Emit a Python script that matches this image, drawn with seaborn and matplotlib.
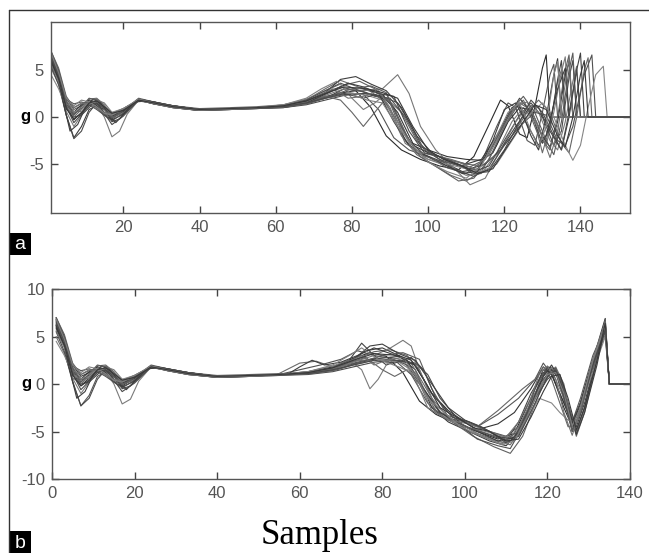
import matplotlib
matplotlib.use("Agg")
import matplotlib.pyplot as plt
from matplotlib.lines import Line2D
from matplotlib.patches import Rectangle
import seaborn as sns
import pandas as pd

# Panel a: raw trials, (sample, g) key points
trials_a = [
    [(1,6.5),(3,4.2),(5,1.2),(7,-0.3),(9,0.5),(11,1.5),(13,1.6),(15,0.9),(17,0.1),(20,0.8),(24,1.8),(28,1.4),(33,1.0),(40,0.7),(48,0.9),(55,1.0),(62,1.2),(68,1.7),(73,2.6),(77,3.2),(81,2.8),(85,1.0),(89,-2.0),(93,-3.5),(98,-4.5),(103,-5.2),(108,-5.6),(112,-4.2),(116,-0.8),(119,1.8),(121,1.2),(124,-1.8),(126,-2.2),(128,1.0),(130,5.2),(131,6.6),(132,0),(153,0)],
    [(1,7.0),(3,5.0),(5,2.0),(7,0.8),(9,1.2),(11,1.8),(13,1.5),(15,0.5),(17,-0.2),(20,0.6),(24,1.9),(28,1.5),(33,1.2),(40,0.8),(48,0.9),(55,1.0),(62,1.1),(68,1.5),(73,2.2),(78,2.6),(83,2.4),(87,0.8),(91,-2.2),(95,-3.5),(100,-4.2),(105,-5.4),(110,-6.0),(114,-4.8),(118,-1.0),(121,1.5),(123,1.0),(126,-2.5),(128,-3.0),(130,0.5),(132,4.5),(133,5.6),(134,0),(153,0)],
    [(1,6.0),(3,3.8),(5,0.2),(7,-2.2),(9,-1.0),(11,0.8),(13,1.2),(15,0.8),(17,0.3),(20,0.8),(24,1.8),(28,1.4),(33,1.1),(40,0.7),(48,0.8),(55,0.9),(62,1.0),(68,1.4),(73,2.0),(78,3.0),(83,2.7),(88,2.0),(92,-0.5),(96,-3.0),(100,-3.8),(105,-4.5),(110,-5.0),(114,-4.5),(118,-2.0),(122,1.0),(124,1.2),(127,-2.0),(129,-3.5),(131,0.0),(133,4.5),(134,6.2),(135,0),(153,0)],
    [(1,5.2),(3,3.5),(5,0.8),(7,0.3),(9,0.9),(11,1.9),(13,2.0),(15,1.3),(17,0.2),(20,0.5),(24,1.7),(28,1.5),(33,1.2),(40,0.9),(48,1.0),(55,1.1),(62,1.3),(68,1.8),(73,3.0),(77,3.9),(81,3.3),(85,2.7),(89,1.5),(93,-2.0),(97,-4.0),(101,-5.0),(106,-6.2),(110,-6.8),(114,-5.8),(118,-3.0),(122,0.5),(125,1.8),(128,-0.5),(130,-3.8),(132,-1.0),(134,3.8),(135,5.0),(136,0),(153,0)],
    [(1,6.6),(3,4.6),(5,1.5),(7,0.0),(9,0.2),(11,1.0),(13,1.7),(15,1.0),(17,-0.5),(19,-0.2),(24,1.9),(28,1.6),(33,1.2),(40,0.8),(48,0.9),(55,1.0),(62,1.2),(68,1.5),(73,2.0),(78,2.4),(84,2.5),(88,2.2),(91,1.0),(95,-2.5),(99,-4.0),(104,-4.8),(109,-5.8),(113,-5.5),(117,-3.0),(121,0.0),(124,2.0),(127,0.5),(130,-2.8),(132,-1.0),(134,4.0),(135,6.0),(136,0),(153,0)],
    [(1,5.8),(3,4.0),(5,0.6),(7,-1.0),(9,0.2),(11,1.5),(13,1.3),(15,0.0),(17,-2.1),(19,-1.5),(21,0.3),(24,1.8),(28,1.5),(33,1.0),(40,0.7),(48,0.8),(55,1.0),(62,1.3),(68,1.9),(73,2.8),(77,3.5),(80,2.0),(83,0.8),(86,1.5),(89,2.5),(92,0.0),(96,-3.5),(100,-4.5),(105,-5.2),(110,-6.2),(114,-6.0),(118,-3.8),(122,-0.5),(125,1.0),(128,-0.5),(131,-3.0),(133,0.5),(135,4.8),(136,6.4),(137,0),(153,0)],
    [(1,6.2),(3,4.0),(5,1.0),(7,0.5),(9,1.3),(11,1.8),(13,1.2),(15,0.2),(17,-0.3),(20,0.3),(24,1.9),(28,1.5),(33,1.1),(40,0.7),(48,0.9),(55,1.0),(62,1.1),(68,1.4),(73,2.1),(79,2.7),(84,2.9),(88,2.4),(92,0.5),(96,-2.8),(100,-3.5),(105,-4.2),(110,-4.5),(114,-4.6),(117,-3.8),(121,-0.5),(124,1.0),(127,0.8),(130,-2.0),(132,-3.2),(134,-0.5),(136,4.5),(137,5.8),(138,0),(153,0)],
    [(1,7.0),(3,5.2),(5,2.2),(7,1.0),(9,1.4),(11,1.6),(13,1.0),(15,0.2),(17,0.0),(20,0.7),(24,2.0),(28,1.6),(33,1.2),(40,0.8),(48,0.9),(55,1.0),(62,1.2),(68,1.6),(73,2.5),(78,3.4),(82,3.8),(86,3.0),(90,1.5),(94,-2.5),(98,-4.2),(103,-5.5),(108,-6.8),(112,-6.5),(116,-4.5),(120,-1.0),(124,1.5),(126,1.0),(129,-2.0),(132,-3.5),(134,0.0),(136,5.0),(137,6.6),(138,0),(153,0)],
    [(1,5.5),(3,3.4),(5,0.2),(7,-2.3),(9,-1.5),(11,0.5),(13,1.5),(15,1.0),(17,0.4),(20,0.9),(24,1.8),(28,1.4),(33,1.0),(40,0.7),(48,0.8),(55,0.9),(62,1.0),(68,1.3),(73,1.8),(78,2.3),(83,2.5),(88,2.2),(92,1.5),(95,-0.5),(99,-3.5),(103,-4.5),(108,-5.2),(112,-5.8),(116,-5.2),(120,-2.5),(124,0.2),(127,1.5),(130,0.0),(133,-3.0),(135,-1.5),(137,4.2),(138,6.0),(139,0),(153,0)],
    [(1,6.4),(3,4.5),(5,1.8),(7,0.6),(9,0.6),(11,1.2),(13,1.8),(15,1.5),(17,0.5),(20,0.5),(24,1.7),(28,1.5),(33,1.1),(40,0.8),(48,0.9),(55,1.0),(62,1.1),(68,1.5),(73,2.3),(78,3.0),(83,2.8),(88,3.0),(92,4.5),(95,2.5),(98,-1.0),(102,-3.5),(107,-5.5),(111,-7.2),(115,-6.5),(119,-3.5),(123,-0.5),(126,1.0),(129,0.5),(132,-2.5),(134,-3.5),(136,-0.5),(138,3.8),(139,5.4),(140,0),(153,0)],
    [(1,6.7),(3,4.8),(5,1.6),(7,0.4),(9,0.9),(11,1.3),(13,1.4),(15,0.9),(17,0.1),(20,0.6),(24,1.9),(28,1.6),(33,1.2),(40,0.8),(48,0.9),(55,1.0),(62,1.2),(68,1.7),(73,2.6),(77,4.0),(81,4.3),(85,3.5),(89,2.8),(93,1.0),(97,-2.0),(101,-3.8),(106,-4.8),(111,-5.5),(115,-5.0),(119,-3.5),(123,-1.0),(127,1.2),(129,1.0),(132,-1.5),(135,-3.5),(137,0.0),(139,5.0),(140,6.8),(141,0),(153,0)],
    [(1,6.0),(3,4.2),(5,1.3),(7,0.0),(9,0.8),(11,1.7),(13,1.9),(15,1.2),(17,0.0),(20,0.4),(24,1.8),(28,1.5),(33,1.1),(40,0.8),(48,0.8),(55,0.9),(62,1.1),(68,1.6),(73,2.2),(77,1.8),(80,0.5),(83,-1.0),(86,0.5),(89,2.0),(93,0.5),(97,-2.5),(101,-4.0),(106,-4.5),(110,-5.0),(114,-5.2),(118,-4.0),(122,-2.0),(126,0.5),(129,1.8),(132,0.5),(135,-2.8),(137,-3.8),(139,0.0),(141,5.0),(142,6.3),(143,0),(153,0)],
    [(1,6.3),(3,4.4),(5,1.9),(7,1.4),(9,1.6),(11,1.3),(13,0.8),(15,0.2),(17,-0.4),(20,0.4),(24,1.9),(28,1.6),(33,1.2),(40,0.8),(48,0.9),(55,1.0),(62,1.2),(68,1.8),(73,2.8),(77,3.6),(82,2.8),(86,2.2),(90,2.0),(94,0.0),(98,-3.0),(102,-4.2),(107,-5.6),(112,-6.3),(116,-5.5),(120,-3.0),(124,-1.0),(128,0.5),(131,0.2),(134,-2.5),(136,-3.0),(138,-1.0),(141,4.5),(143,6.6),(144,0),(153,0)],
    [(1,4.5),(3,3.0),(5,1.0),(7,0.5),(9,0.8),(11,1.5),(13,1.6),(15,1.2),(17,0.5),(20,0.9),(24,1.8),(28,1.5),(33,1.1),(40,0.8),(48,0.9),(55,1.0),(62,1.1),(68,1.4),(73,2.0),(79,2.6),(84,2.3),(88,1.8),(92,-0.5),(96,-3.5),(100,-4.5),(105,-5.0),(110,-5.5),(114,-5.8),(118,-5.0),(122,-2.5),(126,0.0),(130,1.5),(133,0.0),(136,-3.0),(138,-4.6),(140,-3.0),(142,1.0),(144,4.5),(146,5.4),(147,0),(153,0)],
    [(1,6.1),(3,4.0),(4,2.0),(6,-1.5),(8,-0.8),(10,1.0),(12,1.9),(14,1.5),(16,0.3),(18,-0.6),(20,0.3),(23,1.6),(26,1.7),(30,1.3),(36,0.9),(42,0.7),(50,0.9),(57,1.0),(63,1.2),(69,1.7),(74,2.6),(79,3.6),(83,3.2),(87,2.5),(91,-0.5),(95,-3.0),(99,-4.0),(104,-5.0),(109,-6.0),(113,-5.8),(117,-2.5),(120,0.8),(123,1.5),(126,-0.8),(129,-3.0),(131,-2.0),(134,3.0),(136,5.2),(137,0),(153,0)],
    [(1,6.9),(3,4.9),(5,1.7),(7,0.2),(9,1.1),(11,2.0),(13,1.8),(15,0.8),(17,-0.1),(20,0.7),(24,1.9),(28,1.5),(34,1.1),(41,0.8),(49,0.9),(56,1.0),(63,1.1),(69,1.5),(74,2.2),(80,3.0),(85,3.3),(89,2.6),(93,-1.0),(97,-3.8),(102,-4.6),(107,-5.0),(111,-5.3),(115,-4.5),(119,-1.5),(122,0.8),(125,2.2),(128,0.5),(131,-2.5),(133,-4.0),(135,-0.5),(137,5.0),(138,6.8),(139,0),(153,0)],
    [(1,5.6),(3,3.8),(5,1.4),(7,1.0),(9,1.5),(11,1.4),(13,0.9),(15,0.5),(17,0.3),(20,0.9),(24,1.8),(28,1.4),(33,1.0),(40,0.7),(48,0.8),(55,1.0),(62,1.2),(68,1.6),(72,2.4),(75,3.0),(79,2.0),(83,2.2),(87,2.8),(90,1.0),(94,-2.8),(98,-3.8),(103,-4.2),(108,-4.8),(112,-5.5),(116,-4.0),(120,-1.0),(123,1.2),(126,1.6),(129,-1.0),(132,-4.3),(134,-1.5),(136,3.5),(137,6.2),(138,0),(153,0)],
    [(1,6.5),(3,4.6),(5,1.1),(7,-0.6),(9,0.3),(11,1.2),(13,1.5),(15,0.4),(17,-0.8),(20,0.1),(24,1.8),(28,1.6),(33,1.1),(40,0.8),(48,0.9),(55,1.0),(62,1.1),(68,1.5),(73,2.0),(78,2.5),(83,2.0),(87,2.5),(91,2.2),(95,-1.5),(99,-3.8),(103,-4.2),(108,-5.0),(112,-6.0),(116,-5.8),(120,-3.5),(124,-0.5),(127,1.8),(130,0.5),(133,-2.0),(135,-3.5),(137,0.5),(139,5.0),(140,0),(153,0)],
    [(1,6.8),(3,4.7),(5,2.0),(7,1.2),(9,1.8),(11,1.6),(13,1.1),(15,0.4),(17,0.2),(20,0.9),(24,1.9),(28,1.5),(33,1.1),(40,0.8),(48,0.9),(55,1.0),(62,1.3),(68,2.0),(72,3.0),(76,3.8),(80,2.4),(84,1.8),(88,1.5),(92,-1.0),(96,-3.0),(100,-4.8),(105,-5.8),(110,-6.5),(114,-5.2),(118,-2.0),(121,0.5),(124,1.5),(127,-1.5),(129,-3.2),(131,-1.0),(133,4.5),(134,5.9),(135,0),(153,0)],
    [(1,5.9),(3,4.1),(5,0.9),(7,-0.2),(9,0.4),(11,1.5),(13,1.7),(15,1.1),(17,0.4),(20,0.7),(24,1.8),(28,1.5),(33,1.1),(40,0.8),(48,0.9),(55,1.0),(62,1.2),(68,1.7),(73,2.5),(78,3.2),(84,3.0),(88,2.6),(92,2.0),(96,-1.0),(100,-3.5),(104,-4.5),(109,-5.2),(113,-6.0),(117,-5.5),(121,-3.0),(125,-0.5),(128,1.3),(131,0.8),(134,-2.0),(136,-3.2),(138,0.0),(140,4.5),(141,6.0),(142,0),(153,0)],
]

# Panel b: the same trials after time alignment
trials_b = [
    [(1,6.8),(3,4.5),(5,1.3),(7,-0.2),(9,0.6),(11,1.5),(13,1.6),(15,0.8),(17,0.1),(20,0.8),(24,1.8),(28,1.4),(33,1.0),(40,0.7),(48,0.8),(55,1.0),(62,1.3),(68,1.8),(73,2.7),(77,3.3),(81,2.9),(85,1.2),(89,-1.8),(93,-3.2),(98,-4.2),(103,-5.0),(108,-5.8),(112,-5.2),(116,-1.5),(119,1.5),(121,1.2),(124,-2.5),(126,-4.5),(128,-2.0),(131,2.5),(134,6.9),(135,0),(140,0)],
    [(1,6.2),(3,4.0),(5,0.3),(7,-2.3),(9,-1.2),(11,0.8),(13,1.3),(15,0.7),(17,0.2),(20,0.8),(24,1.8),(28,1.5),(33,1.1),(40,0.8),(48,0.9),(55,1.0),(62,1.2),(68,1.6),(73,2.2),(78,2.7),(83,2.5),(87,1.0),(91,-2.0),(95,-3.5),(100,-4.0),(103,-4.5),(108,-3.2),(113,-1.5),(117,0.5),(119,2.2),(121,1.0),(124,-2.0),(126,-4.0),(128,-1.5),(131,3.0),(134,6.0),(135,0),(140,0)],
    [(1,7.0),(3,5.0),(5,2.0),(7,0.8),(9,1.2),(11,1.8),(13,1.5),(15,0.5),(17,-0.2),(20,0.6),(24,1.9),(28,1.5),(33,1.2),(40,0.8),(48,0.9),(55,1.0),(62,1.1),(68,1.5),(72,2.3),(76,3.5),(80,3.8),(84,3.0),(88,1.5),(92,-2.5),(96,-4.0),(101,-5.0),(106,-6.0),(110,-6.5),(113,-5.0),(117,-1.0),(120,1.8),(122,1.2),(125,-3.0),(127,-5.0),(129,-2.5),(132,3.0),(134,6.5),(135,0),(140,0)],
    [(1,5.0),(3,3.2),(5,0.6),(7,0.2),(9,0.9),(11,1.9),(13,2.0),(15,1.3),(17,0.2),(20,0.5),(24,1.7),(28,1.5),(33,1.2),(40,0.9),(48,1.0),(55,1.1),(60,2.2),(64,2.4),(68,1.8),(73,2.4),(78,2.6),(83,2.4),(87,2.2),(90,0.0),(94,-3.0),(98,-4.0),(103,-5.2),(108,-6.0),(111,-6.4),(114,-4.5),(118,-0.5),(121,1.6),(123,0.8),(126,-3.5),(127,-5.2),(129,-2.5),(132,2.5),(134,5.8),(135,0),(140,0)],
    [(1,6.6),(3,4.6),(5,1.5),(7,0.0),(9,0.2),(11,1.0),(13,1.7),(15,1.0),(17,-0.5),(19,-0.2),(24,1.9),(28,1.6),(33,1.2),(40,0.8),(48,0.9),(55,1.0),(62,1.2),(68,1.5),(72,2.5),(75,4.3),(78,3.0),(81,2.0),(84,2.5),(88,2.0),(92,-1.0),(96,-3.0),(100,-4.5),(105,-5.2),(110,-6.0),(113,-4.0),(116,-1.0),(119,1.2),(122,1.5),(124,-1.0),(126,-4.8),(128,-3.0),(131,2.0),(134,6.2),(135,0),(140,0)],
    [(1,5.8),(3,4.0),(5,0.6),(7,-1.0),(9,0.2),(11,1.5),(13,1.3),(15,0.0),(17,-2.1),(19,-1.6),(21,0.3),(24,1.8),(28,1.5),(33,1.0),(40,0.7),(48,0.8),(55,1.0),(62,1.3),(68,1.9),(72,2.5),(75,1.5),(77,-0.5),(79,0.5),(82,2.8),(85,2.5),(88,0.5),(91,-2.5),(95,-3.5),(99,-4.2),(104,-5.5),(109,-6.3),(112,-5.5),(116,-2.0),(119,0.8),(121,1.5),(124,-1.5),(126,-5.0),(128,-2.8),(131,2.5),(134,6.6),(135,0),(140,0)],
    [(1,6.2),(3,4.0),(5,1.0),(7,0.5),(9,1.3),(11,1.8),(13,1.2),(15,0.2),(17,-0.3),(20,0.3),(24,1.9),(28,1.5),(33,1.1),(40,0.7),(48,0.9),(55,1.0),(62,1.1),(68,1.4),(73,2.1),(79,2.7),(84,2.9),(88,2.0),(92,-1.0),(96,-2.8),(100,-4.0),(103,-4.8),(108,-4.2),(112,-3.0),(116,-0.5),(119,1.8),(121,1.0),(124,-2.0),(126,-4.2),(128,-2.0),(131,2.5),(134,5.5),(135,0),(140,0)],
    [(1,7.0),(3,5.2),(5,2.2),(7,1.0),(9,1.4),(11,1.6),(13,1.0),(15,0.2),(17,0.0),(20,0.7),(24,2.0),(28,1.6),(33,1.2),(40,0.8),(48,0.9),(55,1.0),(62,1.2),(68,1.6),(73,2.5),(78,3.4),(82,3.6),(86,3.0),(89,1.5),(93,-2.5),(97,-4.0),(102,-5.5),(107,-6.6),(111,-7.3),(114,-5.5),(118,-1.0),(121,1.5),(123,1.0),(125,-2.0),(127,-5.5),(129,-3.0),(132,2.5),(134,6.8),(135,0),(140,0)],
    [(1,5.5),(3,3.4),(5,0.2),(7,-2.3),(9,-1.5),(11,0.5),(13,1.5),(15,1.0),(17,0.4),(20,0.9),(24,1.8),(28,1.4),(33,1.0),(40,0.7),(48,0.8),(55,0.9),(62,1.0),(68,1.3),(73,1.8),(78,2.3),(83,2.5),(88,2.2),(91,1.0),(94,-1.5),(98,-3.5),(102,-4.2),(106,-5.0),(110,-5.5),(113,-4.5),(117,-1.5),(120,0.5),(122,1.2),(124,-0.5),(126,-4.0),(128,-2.0),(131,2.0),(134,5.5),(135,0),(140,0)],
    [(1,6.4),(3,4.5),(5,1.8),(7,0.6),(9,0.6),(11,1.2),(13,1.8),(15,1.5),(17,0.5),(20,0.5),(24,1.7),(28,1.5),(33,1.1),(40,0.8),(48,0.9),(55,1.0),(62,1.1),(68,1.5),(73,2.3),(78,3.0),(82,3.8),(85,4.6),(87,4.0),(89,1.5),(92,-1.5),(96,-3.5),(101,-5.0),(106,-5.8),(110,-6.2),(113,-4.5),(117,-1.0),(120,1.0),(122,1.8),(124,0.0),(126,-4.6),(128,-2.5),(131,2.5),(134,6.4),(135,0),(140,0)],
    [(1,6.7),(3,4.8),(5,1.6),(7,0.4),(9,0.9),(11,1.3),(13,1.4),(15,0.9),(17,0.1),(20,0.6),(24,1.9),(28,1.6),(33,1.2),(40,0.8),(48,0.9),(55,1.0),(62,1.2),(68,1.7),(73,2.6),(77,4.0),(80,4.2),(84,3.2),(88,2.5),(92,0.0),(96,-2.5),(100,-3.8),(104,-4.5),(108,-5.5),(112,-5.8),(115,-3.5),(118,0.0),(121,1.5),(123,0.5),(125,-3.0),(127,-4.5),(129,-2.0),(132,3.0),(134,6.0),(135,0),(140,0)],
    [(1,6.0),(3,4.2),(5,1.3),(7,0.0),(9,0.8),(11,1.7),(13,1.9),(15,1.2),(17,0.0),(20,0.4),(24,1.8),(28,1.5),(33,1.1),(40,0.8),(48,0.8),(55,0.9),(62,1.1),(68,1.6),(73,2.4),(76,2.8),(80,1.5),(83,0.8),(86,1.5),(89,0.0),(93,-2.8),(97,-3.5),(101,-4.2),(103,-4.5),(108,-2.8),(114,-0.5),(117,0.5),(119,1.8),(121,0.5),(123,-2.0),(125,-4.5),(127,-4.2),(130,0.5),(134,5.2),(135,0),(140,0)],
    [(1,6.3),(3,4.4),(5,1.9),(7,1.4),(9,1.6),(11,1.3),(13,0.8),(15,0.2),(17,-0.4),(20,0.4),(24,1.9),(28,1.6),(33,1.2),(40,0.8),(48,0.9),(55,1.0),(60,1.5),(65,2.0),(70,2.6),(74,3.5),(78,3.0),(82,2.7),(86,2.0),(90,-0.5),(94,-3.0),(98,-4.0),(103,-5.8),(108,-6.5),(111,-6.8),(114,-4.5),(117,-0.5),(120,1.8),(122,1.6),(124,-1.5),(126,-5.0),(128,-3.0),(131,2.0),(134,6.3),(135,0),(140,0)],
    [(1,4.5),(3,3.0),(5,1.0),(7,0.5),(9,0.8),(11,1.5),(13,1.6),(15,1.2),(17,0.5),(20,0.9),(24,1.8),(28,1.5),(33,1.1),(40,0.8),(48,0.9),(55,1.0),(62,1.1),(68,1.4),(73,2.0),(79,2.6),(84,2.3),(88,1.2),(92,-2.0),(96,-3.8),(100,-4.5),(105,-5.0),(109,-5.5),(113,-5.5),(116,-3.0),(118,-1.5),(121,-2.0),(123,-3.0),(125,-3.8),(127,-4.0),(130,0.0),(134,5.0),(135,0),(140,0)],
    [(1,6.1),(3,4.0),(4,2.0),(6,-1.5),(8,-0.8),(10,1.0),(12,1.9),(14,1.5),(16,0.3),(18,-0.6),(20,0.3),(23,1.6),(26,1.7),(30,1.3),(36,0.9),(42,0.7),(50,0.9),(57,1.0),(60,1.8),(63,2.5),(66,2.0),(70,2.3),(74,3.0),(78,3.8),(82,3.2),(86,2.5),(90,-0.5),(94,-3.0),(98,-4.0),(103,-5.0),(108,-6.0),(112,-5.6),(116,-2.5),(119,0.8),(121,2.0),(123,0.5),(125,-2.5),(127,-5.3),(129,-3.0),(132,2.0),(134,6.2),(135,0),(140,0)],
    [(1,6.9),(3,4.9),(5,1.7),(7,0.2),(9,1.1),(11,2.0),(13,1.8),(15,0.8),(17,-0.1),(20,0.7),(24,1.9),(28,1.5),(34,1.1),(41,0.8),(49,0.9),(56,1.0),(63,1.1),(69,1.5),(74,2.2),(80,3.0),(85,3.3),(89,2.6),(92,-0.5),(96,-3.5),(101,-4.6),(106,-5.3),(110,-5.8),(113,-5.0),(116,-2.5),(119,0.2),(122,1.7),(124,-0.5),(126,-5.0),(128,-3.0),(131,2.0),(134,6.0),(135,0),(140,0)],
    [(1,5.6),(3,3.8),(5,1.4),(7,1.0),(9,1.5),(11,1.4),(13,0.9),(15,0.5),(17,0.3),(20,0.9),(24,1.8),(28,1.4),(33,1.0),(40,0.7),(48,0.8),(55,1.0),(62,1.2),(68,1.6),(72,2.4),(75,3.0),(78,2.0),(81,2.5),(85,2.8),(88,1.0),(92,-2.8),(96,-3.8),(101,-4.2),(106,-5.0),(110,-5.6),(113,-4.0),(116,-1.5),(118,1.0),(120,1.9),(122,0.5),(124,-3.0),(126,-5.4),(128,-2.8),(131,2.5),(134,6.5),(135,0),(140,0)],
    [(1,6.5),(3,4.6),(5,1.1),(7,-0.6),(9,0.3),(11,1.2),(13,1.5),(15,0.4),(17,-0.8),(20,0.1),(24,1.8),(28,1.6),(33,1.1),(40,0.8),(48,0.9),(55,1.0),(62,1.1),(68,1.5),(73,2.0),(78,2.5),(83,2.2),(87,2.8),(90,1.5),(93,-1.5),(97,-3.5),(101,-4.0),(106,-5.0),(110,-6.2),(113,-5.5),(117,-2.0),(120,0.8),(122,1.4),(124,-1.0),(126,-4.4),(128,-2.5),(131,2.0),(134,5.8),(135,0),(140,0)],
    [(1,6.8),(3,4.7),(5,2.0),(7,1.2),(9,1.8),(11,1.6),(13,1.1),(15,0.4),(17,0.2),(20,0.9),(24,1.9),(28,1.5),(33,1.1),(40,0.8),(48,0.9),(55,1.0),(62,1.3),(68,2.0),(72,3.0),(75,3.8),(79,2.6),(84,1.8),(88,1.0),(91,-1.5),(95,-3.0),(99,-4.5),(104,-5.5),(109,-6.4),(112,-6.0),(115,-3.5),(118,-0.5),(120,1.0),(122,1.2),(124,-1.0),(126,-4.4),(128,-2.5),(131,2.5),(134,6.1),(135,0),(140,0)],
    [(1,5.9),(3,4.1),(5,0.9),(7,-0.2),(9,0.4),(11,1.5),(13,1.7),(15,1.1),(17,0.4),(20,0.7),(24,1.8),(28,1.5),(33,1.1),(40,0.8),(48,0.9),(55,1.0),(62,1.2),(68,1.7),(73,2.5),(78,3.2),(84,3.0),(87,2.5),(90,0.5),(94,-2.5),(98,-3.5),(102,-4.6),(106,-5.0),(110,-6.0),(113,-5.8),(116,-3.5),(119,-0.8),(121,0.8),(123,1.0),(125,-1.5),(127,-4.8),(129,-2.5),(132,2.5),(134,6.4),(135,0),(140,0)],
]

xticks_a = [20, 40, 60, 80, 100, 120, 140]
yticks_a = [-5, 0, 5]
xticks_b = [0, 20, 40, 60, 80, 100, 120, 140]
yticks_b = [-10, -5, 0, 5, 10]


def to_frame(trials):
    rows = []
    for i, tr in enumerate(trials):
        for s, g in tr:
            rows.append({"trial": i, "sample": s, "g": g})
    return pd.DataFrame(rows)


sns.set_theme(style="white")
plt.rcParams["font.family"] = ["Liberation Sans", "DejaVu Sans"]
plt.rcParams["axes.unicode_minus"] = False

grays = ["#2a2a2a", "#555555", "#3a3a3a", "#6a6a6a", "#444444", "#7a7a7a", "#333333",
         "#606060", "#4a4a4a", "#777777", "#3f3f3f", "#656565", "#505050", "#858585",
         "#3c3c3c", "#5a5a5a", "#707070", "#484848", "#7f7f7f", "#383838"]

fig = plt.figure(figsize=(6.49, 5.53), dpi=100)
fig.patch.set_facecolor("white")
ax_a = fig.add_axes([51 / 649, 1 - 213 / 553, (630 - 51) / 649, (213 - 22) / 553])
ax_b = fig.add_axes([52 / 649, 1 - 479 / 553, (630 - 52) / 649, (479 - 289) / 553])

panels = [
    (ax_a, trials_a, (1, 153), (-10.2, 10.1), xticks_a, yticks_a),
    (ax_b, trials_b, (0, 140), (-10, 10), xticks_b, yticks_b),
]
for ax, trials, xl, yl, xt, yt in panels:
    df = to_frame(trials)
    sns.lineplot(data=df, x="sample", y="g", hue="trial", units="trial",
                 estimator=None, sort=False, palette=grays[:len(trials)],
                 legend=False, linewidth=0.8, ax=ax)
    ax.set_xlim(*xl)
    ax.set_ylim(*yl)
    ax.set_xticks(xt)
    ax.set_yticks(yt)
    ax.set_xlabel("")
    ax.set_ylabel("g", rotation=0, fontweight="bold", fontsize=12, color="black",
                  labelpad=2)
    ax.yaxis.set_label_coords(-0.045, (0 - yl[0]) / (yl[1] - yl[0]) - 0.035)
    ax.tick_params(direction="in", bottom=True, left=True, top=True, right=True,
                   length=5, width=1.0, color="#444444", labelcolor="#555555",
                   labelsize=12, pad=5)
    for sp in ax.spines.values():
        sp.set_color("#555555")
        sp.set_linewidth(1.0)

# outer frame lines of the figure
fig.add_artist(Line2D([9 / 649, 1], [1 - 10 / 553, 1 - 10 / 553], color="#333333", lw=1.0))
fig.add_artist(Line2D([9 / 649, 9 / 649], [0, 1 - 10 / 553], color="#333333", lw=1.0))

# panel tags
for tag, top in [("a", 233), ("b", 531)]:
    fig.add_artist(Rectangle((9 / 649, 1 - (top + 22) / 553), 22 / 649, 22 / 553,
                             facecolor="black", edgecolor="none"))
    fig.text(20 / 649, 1 - (top + 12) / 553, tag, color="white", fontsize=14,
             ha="center", va="center")

fig.text(320 / 649, 1 - 535 / 553, "Samples", family=["Liberation Serif", "DejaVu Serif"],
         fontsize=25, ha="center", va="center", color="black")

fig.savefig("out.png", dpi=100, facecolor="white")
